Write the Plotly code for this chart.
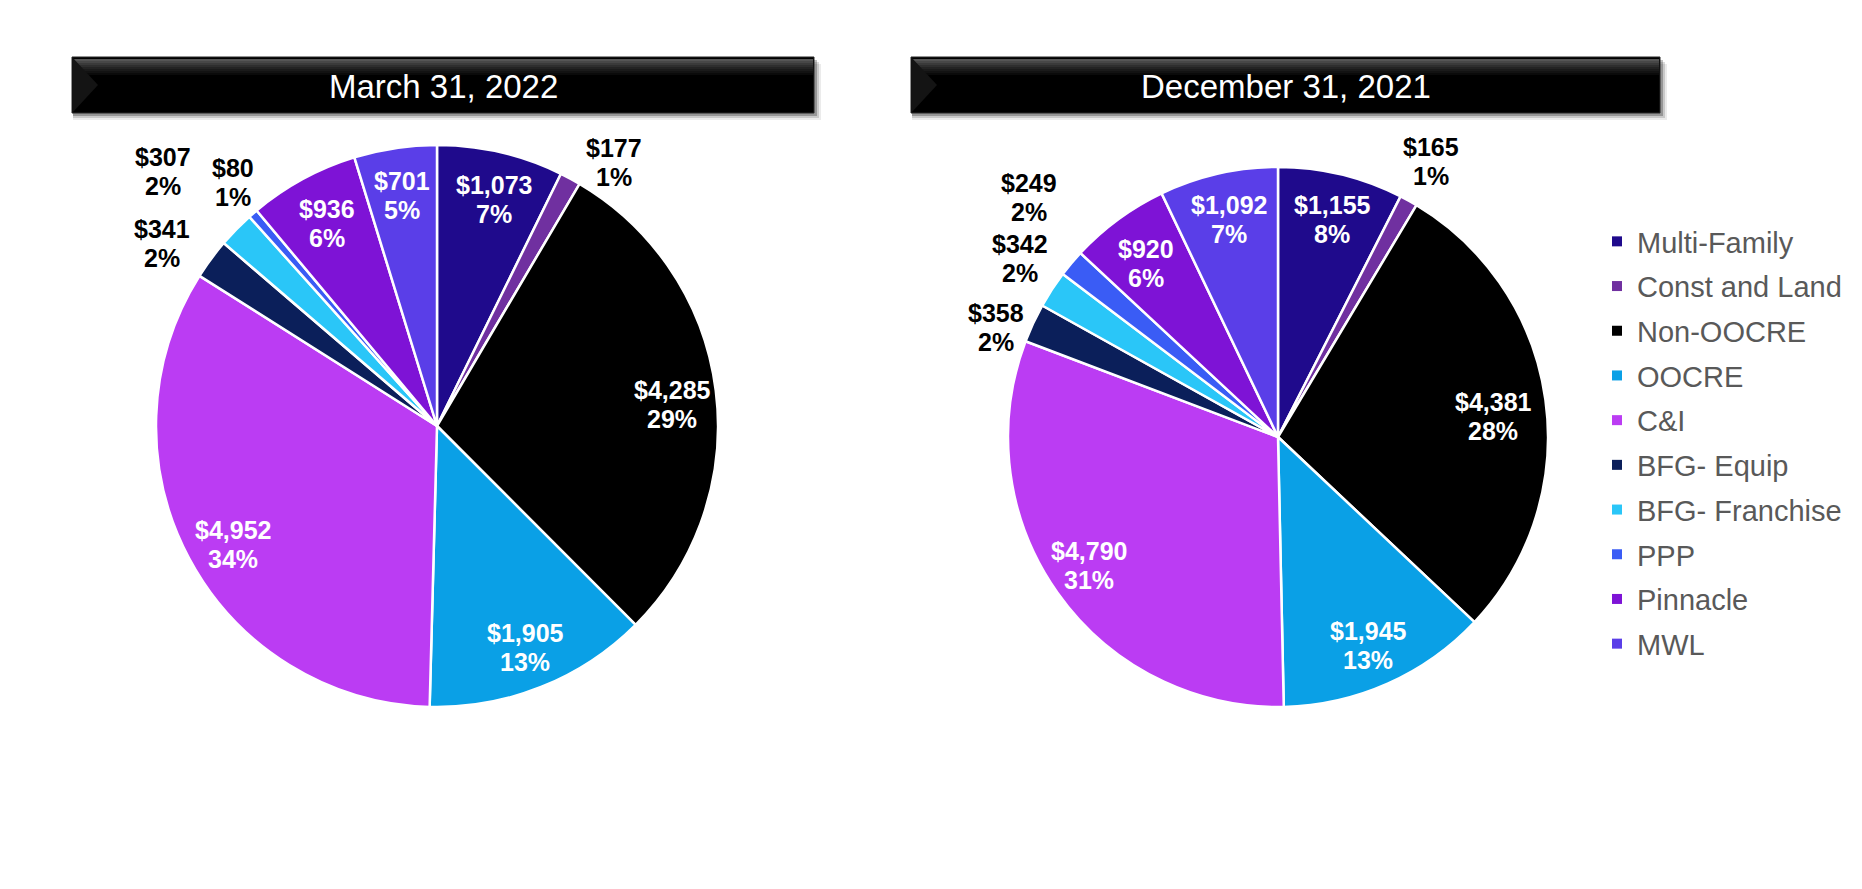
import math
import plotly.graph_objects as go

W, H = 1862, 889

categories = ["Multi-Family", "Const and Land", "Non-OOCRE", "OOCRE", "C&I",
              "BFG- Equip", "BFG- Franchise", "PPP", "Pinnacle", "MWL"]
mar_2022 = [1073, 177, 4285, 1905, 4952, 341, 307, 80, 936, 701]
dec_2021 = [1155, 165, 4381, 1945, 4790, 358, 342, 249, 920, 1092]
colors = ["#1F0A8C", "#7030A0", "#000000", "#0AA0E6", "#BB3CF3",
          "#0B1F5A", "#2AC6F8", "#3A5CF5", "#7E13D6", "#5A3EE8"]
titles = ["March 31, 2022", "December 31, 2021"]

# label placement style: radial distance (fraction of radius), angle nudge (deg)
mar_label_r = [0.83, 1.13, 0.84, 0.85, 0.84, 1.175, 1.33, 1.13, 0.82, 0.83]
mar_label_da = [1, 5.5, 2, 0, -2, -3, -1.5, 1, 0, 0]
dec_label_r = [0.83, 1.168, 0.80, 0.84, 0.845, 1.12, 1.16, 1.28, 0.81, 0.825]
dec_label_da = [0.5, 0, 2.5, 0.5, 1, -3.7, 1.5, 3.8, -1, 0]

FONT = "Liberation Sans, Arial, sans-serif"
LINE_GAP = 29  # px between the value line and the percent line


def px_x(v):
    return v / W


def px_y(v):
    return 1 - v / H


fig = go.Figure()

# pie geometry in pixels: centre x, centre y, radius
pies = [(429, 418, 281), (1270, 429, 270)]

annotations = []
for vals, (cx, cy, r), lr, lda in zip([mar_2022, dec_2021], pies,
                                       [mar_label_r, dec_label_r],
                                       [mar_label_da, dec_label_da]):
    fig.add_trace(go.Pie(
        labels=categories, values=vals, sort=False, direction="clockwise",
        rotation=0,
        domain=dict(x=[px_x(cx - r), px_x(cx + r)], y=[px_y(cy + r), px_y(cy - r)]),
        marker=dict(colors=colors, line=dict(color="white", width=2.5)),
        textinfo="none", showlegend=False, hoverinfo="label+value+percent",
    ))
    tot = sum(vals)
    cum = 0
    for v, f, da in zip(vals, lr, lda):
        mid = (cum + v / 2) / tot * 360 + da
        cum += v
        d = f * r
        x = cx + d * math.sin(math.radians(mid))
        y = cy - d * math.cos(math.radians(mid))
        pct = round(v / tot * 100)
        col = "white" if f < 1 else "black"
        for txt, yy in [(f"<b>${v:,}</b>", y - LINE_GAP / 2), (f"<b>{pct}%</b>", y + LINE_GAP / 2)]:
            annotations.append(dict(
                text=txt, xref="paper", yref="paper",
                x=px_x(x), y=px_y(yy), xanchor="center", yanchor="middle",
                showarrow=False, align="center",
                font=dict(color=col, size=25, family=FONT)))

# legend entries (one per category)
for cat, col in zip(categories, colors):
    fig.add_trace(go.Scatter(
        x=[None], y=[None], mode="markers", name=cat, legendgroup=cat,
        marker=dict(symbol="square", size=10, color=col),
    ))

shapes = []
bars = [(64, 49, 806, 105), (903, 49, 1652, 105)]
for (x0, y0, x1, y1), t in zip(bars, titles):
    # soft shadow
    for off, a in [(7, 0.08), (5, 0.14), (3, 0.25)]:
        shapes.append(dict(type="rect", xref="paper", yref="paper",
                           x0=px_x(x0 + 1), x1=px_x(x1 + off), y0=px_y(y1 + off), y1=px_y(y0 + off),
                           fillcolor=f"rgba(0,0,0,{a})", line=dict(width=0), layer="below"))
    shapes.append(dict(type="rect", xref="paper", yref="paper",
                       x0=px_x(x0), x1=px_x(x1), y0=px_y(y1), y1=px_y(y0),
                       fillcolor="#000000", line=dict(color="#262626", width=1)))
    # top glossy gradient
    for i, c in enumerate(["#555555", "#474747", "#3a3a3a", "#2e2e2e", "#232323",
                           "#1a1a1a", "#121212", "#0a0a0a"]):
        shapes.append(dict(type="rect", xref="paper", yref="paper",
                           x0=px_x(x0 + 1), x1=px_x(x1 - 1),
                           y0=px_y(y0 + 2 + 2 * (i + 1)), y1=px_y(y0 + 2 + 2 * i),
                           fillcolor=c, line=dict(width=0)))
    # left bevel
    shapes.append(dict(type="path", xref="paper", yref="paper",
                       path=(f"M {px_x(x0 + 1)},{px_y(y0 + 1)} L {px_x(x0 + 26)},{px_y((y0 + y1) / 2)} "
                             f"L {px_x(x0 + 1)},{px_y(y1 - 1)} Z"),
                       fillcolor="#141414", line=dict(width=0)))
    annotations.append(dict(text=t, xref="paper", yref="paper",
                            x=px_x((x0 + x1) / 2), y=px_y((y0 + y1) / 2 + 1),
                            xanchor="center", yanchor="middle", showarrow=False,
                            font=dict(color="white", size=33, family=FONT)))

fig.update_layout(
    width=W, height=H,
    margin=dict(l=0, r=0, t=0, b=0),
    paper_bgcolor="white", plot_bgcolor="white",
    xaxis=dict(visible=False), yaxis=dict(visible=False),
    shapes=shapes, annotations=annotations,
    legend=dict(x=px_x(1589), y=px_y(208), xanchor="left", yanchor="top",
                font=dict(size=29, family=FONT, color="#595959"),
                tracegroupgap=4, itemwidth=30, bgcolor="rgba(0,0,0,0)"),
)

fig.write_html("out.html")
